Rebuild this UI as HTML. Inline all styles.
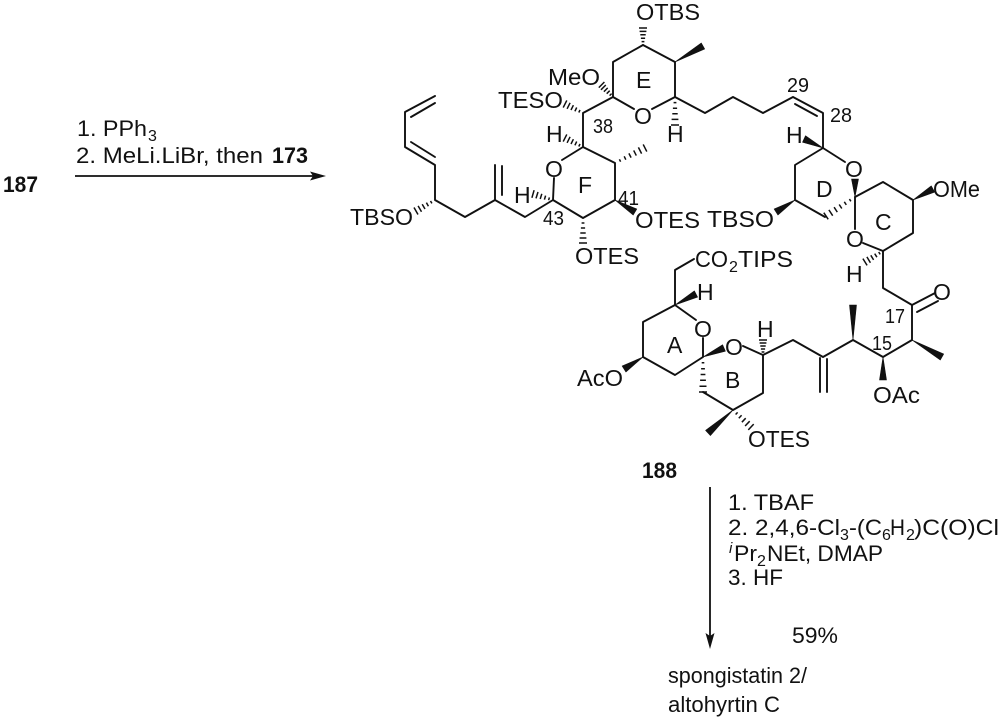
<!DOCTYPE html>
<html>
<head>
<meta charset="utf-8">
<style>
html,body{margin:0;padding:0;background:#fff;}
svg{display:block;}
</style>
</head>
<body>
<svg width="1000" height="723" viewBox="0 0 1000 723" xmlns="http://www.w3.org/2000/svg" font-family="'Liberation Sans', Arial, sans-serif" fill="#111">
<rect width="1000" height="723" fill="#fff"/>

<!-- ===== Arrows ===== -->
<g stroke="#111" stroke-width="1.8" fill="none">
  <path d="M75 176 L314 176"/>
  <path d="M710 487 L710 637"/>
</g>
<polygon points="326,176 310,171.5 313,176 310,180.5" fill="#111"/>
<polygon points="710,649 705.5,633 710,636 714.5,633" fill="#111"/>

<text x="77" y="136" font-size="22" textLength="70" lengthAdjust="spacingAndGlyphs">1. PPh</text>
<text x="148" y="141" font-size="16">3</text>
<text x="76" y="163" font-size="22" textLength="187" lengthAdjust="spacingAndGlyphs">2. MeLi.LiBr, then</text>
<text x="272" y="163" font-size="22" font-weight="bold" textLength="36" lengthAdjust="spacingAndGlyphs">173</text>
<text x="3" y="192" font-size="22" font-weight="bold" textLength="35" lengthAdjust="spacingAndGlyphs">187</text>

<!-- ===== Bonds ===== -->
<g stroke="#111" stroke-width="1.9" fill="none" stroke-linecap="round" stroke-linejoin="round">
  <path d="M643 45 L613 62 L613 97 L634 109"/>
  <path d="M652 109 L675 97 L675 62 L643 45"/>
  <path d="M675 97 L705 113 L733 97 L763 113 L793 97 L823 113 L823 148"/>
  <path d="M795 104 L817 116"/>
  <path d="M613 97 L583 113 L583 147 L562 160"/>
  <path d="M554 178 L553 200 L583 218 L615 200 L615 163 L583 147"/>
  <path d="M553 200 L525 217 L495 200 L465 217 L435 200 L435 165 L405 147 L405 112 L435 96"/>
  <path d="M411 117 L435 103"/>
  <path d="M411 142 L435 157"/>
  <path d="M495 200 L495 165"/>
  <path d="M502 195 L502 166"/>
  <path d="M823 148 L845 162"/>
  <path d="M823 148 L795 165 L795 200 L825 217"/>
  <path d="M855 197 L883 182 L913 200 L913 233 L883 251"/>
  <path d="M855 197 L855 229"/>
  <path d="M863 243 L883 251"/>
  <path d="M883 251 L883 288 L912 305 L912 340 L883 357 L853 340 L823 357 L793 340 L763 355"/>
  <path d="M912 305 L935 293"/>
  <path d="M917 312 L938 301"/>
  <path d="M820 358 L820 392"/>
  <path d="M827 359 L827 392"/>
  <path d="M694 259 L675 270 L675 305 L696 320"/>
  <path d="M675 305 L643 322 L643 357 L675 375 L703 357 L703 338"/>
  <path d="M743 346 L763 355 L763 393 L733 410 L703 392"/>
</g>

<!-- ===== Solid wedges ===== -->
<g fill="#111" stroke="#111" stroke-width="0.6" stroke-linejoin="round">
  <polygon points="675,62 704.7,49 701.3,43"/>
  <polygon points="615,200 633.2,215 636.8,209"/>
  <polygon points="823,148 805.5,135.8 802.5,142.2"/>
  <polygon points="795,200 774.1,209 777.9,215"/>
  <polygon points="855,197 851.5,179 858.5,179"/>
  <polygon points="913,200 934.7,192.1 931.3,185.9"/>
  <polygon points="912,340 940.3,360 943.7,354"/>
  <polygon points="883,357 879.5,380 886.5,380"/>
  <polygon points="853,340 849.5,305 856.5,305"/>
  <polygon points="675,305 697.6,297.1 694.4,290.9"/>
  <polygon points="643,357 622.1,366 625.9,372"/>
  <polygon points="703,357 725.4,351.2 722.6,344.8"/>
  <polygon points="733,410 705.6,430.4 710.4,435.6"/>
</g>

<!-- ===== Hashed wedges ===== -->
<g stroke="#111" stroke-width="1.5" fill="none">
  <path d="M641.6 41.6 L644.4 41.6 M640.9 38.2 L645.1 38.2 M640.3 34.8 L645.7 34.8 M639.6 31.4 L646.4 31.4 M639 28 L647 28"/>
  <path d="M673.6 102.6 L676.4 102.6 M672.9 108.2 L677.1 108.2 M672.3 113.8 L677.7 113.8 M671.6 119.4 L678.4 119.4 M671 125 L679 125"/>
  <path d="M609.6 95.6 L611.6 93.6 M606.7 93.7 L609.7 90.7 M603.9 91.7 L607.7 87.9 M601 89.8 L605.8 85 M598.8 87.6 L604.4 82"/>
  <path d="M578.8 112.5 L580 109.9 M574.9 111.3 L576.7 107.5 M571 110 L573.4 105.2 M567.1 108.8 L570.1 102.8 M563.2 107.6 L566.8 100.4"/>
  <path d="M578.8 146.5 L580 143.9 M574.9 145.3 L576.7 141.5 M571 144 L573.4 139.2 M567.1 142.8 L570.1 136.8 M563.2 141.6 L566.8 134.4"/>
  <path d="M619.4 159.3 L620.6 161.7 M624.2 156.3 L625.8 159.7 M628.9 153.4 L631.1 157.6 M633.7 150.4 L636.3 155.6 M638.4 147.4 L641.6 153.6 M643.2 144.4 L646.8 151.6"/>
  <path d="M581.6 223 L584.4 223 M580.9 228 L585.1 228 M580.3 233 L585.7 233 M579.6 238 L586.4 238 M579 243 L587 243"/>
  <path d="M548.6 200.2 L549.4 197.4 M544.4 199.6 L545.6 195.6 M540.2 199 L541.8 193.8 M536 198.4 L538 192 M531.9 197.8 L534.1 190.2"/>
  <path d="M430.5 201 L431.9 203.4 M426.4 202.6 L428.4 206.2 M422.2 204.2 L425 209 M418.1 205.9 L421.5 211.7 M414 207.5 L418 214.5"/>
  <path d="M849.4 199.1 L850.9 201.3 M844.3 201.8 L846.3 204.9 M839.2 204.5 L841.8 208.5 M834.1 207.2 L837.3 212.1 M828.9 209.9 L832.7 215.7 M823.8 212.7 L828.2 219.3"/>
  <path d="M878.7 252 L880.2 254.4 M874.7 253.6 L876.9 257.2 M870.8 255.3 L873.6 259.9 M866.9 256.9 L870.4 262.7 M862.9 258.6 L867.1 265.4"/>
  <path d="M701.7 362.8 L704.3 362.8 M701.1 368.7 L704.9 368.7 M700.6 374.5 L705.4 374.5 M700.1 380.3 L705.9 380.3 M699.5 386.2 L706.5 386.2 M699 392 L707 392"/>
  <path d="M761.6 352 L764.4 352 M760.9 349 L765.1 349 M760.3 346 L765.7 346 M759.6 343 L766.4 343 M759 340 L767 340"/>
  <path d="M737.6 412.4 L735.6 414.5 M741.6 415.3 L738.8 418.3 M745.7 418.2 L741.9 422.2 M749.7 421.2 L745.1 426 M753.7 424.1 L748.3 429.9"/>
</g>

<!-- ===== Structure labels ===== -->
<g font-size="23">
  <text x="636" y="20" textLength="64" lengthAdjust="spacingAndGlyphs">OTBS</text>
  <text x="548" y="85" textLength="52" lengthAdjust="spacingAndGlyphs">MeO</text>
  <text x="636" y="88">E</text>
  <text x="498" y="108" textLength="65" lengthAdjust="spacingAndGlyphs">TESO</text>
  <text x="634" y="124">O</text>
  <text x="667" y="142">H</text>
  <text x="546" y="142">H</text>
  <text x="545" y="177">O</text>
  <text x="578" y="193">F</text>
  <text x="514" y="203">H</text>
  <text x="635" y="228" textLength="65" lengthAdjust="spacingAndGlyphs">OTES</text>
  <text x="575" y="264" textLength="64" lengthAdjust="spacingAndGlyphs">OTES</text>
  <text x="350" y="225" textLength="63" lengthAdjust="spacingAndGlyphs">TBSO</text>
  <text x="707" y="227" textLength="67" lengthAdjust="spacingAndGlyphs">TBSO</text>
  <text x="786" y="143">H</text>
  <text x="845" y="177">O</text>
  <text x="816" y="197">D</text>
  <text x="933" y="197" textLength="47" lengthAdjust="spacingAndGlyphs">OMe</text>
  <text x="875" y="230">C</text>
  <text x="846" y="247">O</text>
  <text x="846" y="282">H</text>
  <text x="933" y="300">O</text>
  <text x="873" y="403" textLength="47" lengthAdjust="spacingAndGlyphs">OAc</text>
  <text x="757" y="337">H</text>
  <text x="695" y="267" textLength="33" lengthAdjust="spacingAndGlyphs">CO</text>
  <text x="729" y="272" font-size="16">2</text>
  <text x="738" y="267" textLength="55" lengthAdjust="spacingAndGlyphs">TIPS</text>
  <text x="697" y="300">H</text>
  <text x="694" y="337">O</text>
  <text x="667" y="353">A</text>
  <text x="725" y="355">O</text>
  <text x="577" y="386" textLength="46" lengthAdjust="spacingAndGlyphs">AcO</text>
  <text x="725" y="388">B</text>
  <text x="748" y="447" textLength="62" lengthAdjust="spacingAndGlyphs">OTES</text>
</g>
<g font-size="20">
  <text x="593" y="133" textLength="20" lengthAdjust="spacingAndGlyphs">38</text>
  <text x="543" y="225" textLength="21" lengthAdjust="spacingAndGlyphs">43</text>
  <text x="618" y="205" textLength="21" lengthAdjust="spacingAndGlyphs">41</text>
  <text x="787" y="92" textLength="22" lengthAdjust="spacingAndGlyphs">29</text>
  <text x="830" y="122" textLength="22" lengthAdjust="spacingAndGlyphs">28</text>
  <text x="885" y="323" textLength="20" lengthAdjust="spacingAndGlyphs">17</text>
  <text x="872" y="350" textLength="20" lengthAdjust="spacingAndGlyphs">15</text>
</g>

<text x="642" y="478" font-size="22" font-weight="bold" textLength="35" lengthAdjust="spacingAndGlyphs">188</text>

<!-- ===== Bottom reagents ===== -->
<g font-size="22">
  <text x="728" y="510" textLength="86" lengthAdjust="spacingAndGlyphs">1. TBAF</text>
  <text x="728" y="535" textLength="112" lengthAdjust="spacingAndGlyphs">2. 2,4,6-Cl</text>
  <text x="840" y="540" font-size="16">3</text>
  <text x="849" y="535" textLength="33" lengthAdjust="spacingAndGlyphs">-(C</text>
  <text x="882" y="540" font-size="16">6</text>
  <text x="890" y="535" textLength="15" lengthAdjust="spacingAndGlyphs">H</text>
  <text x="906" y="540" font-size="16">2</text>
  <text x="914" y="535" textLength="85" lengthAdjust="spacingAndGlyphs">)C(O)Cl</text>
  <text x="729" y="553" font-size="15" font-style="italic">i</text>
  <text x="734" y="561" textLength="23" lengthAdjust="spacingAndGlyphs">Pr</text>
  <text x="757" y="566" font-size="16">2</text>
  <text x="767" y="561" textLength="116" lengthAdjust="spacingAndGlyphs">NEt, DMAP</text>
  <text x="728" y="585" textLength="55" lengthAdjust="spacingAndGlyphs">3. HF</text>
  <text x="792" y="643" textLength="46" lengthAdjust="spacingAndGlyphs">59%</text>
  <text x="668" y="683" textLength="139" lengthAdjust="spacingAndGlyphs">spongistatin 2/</text>
  <text x="668" y="712" textLength="112" lengthAdjust="spacingAndGlyphs">altohyrtin C</text>
</g>
</svg>
</body>
</html>
